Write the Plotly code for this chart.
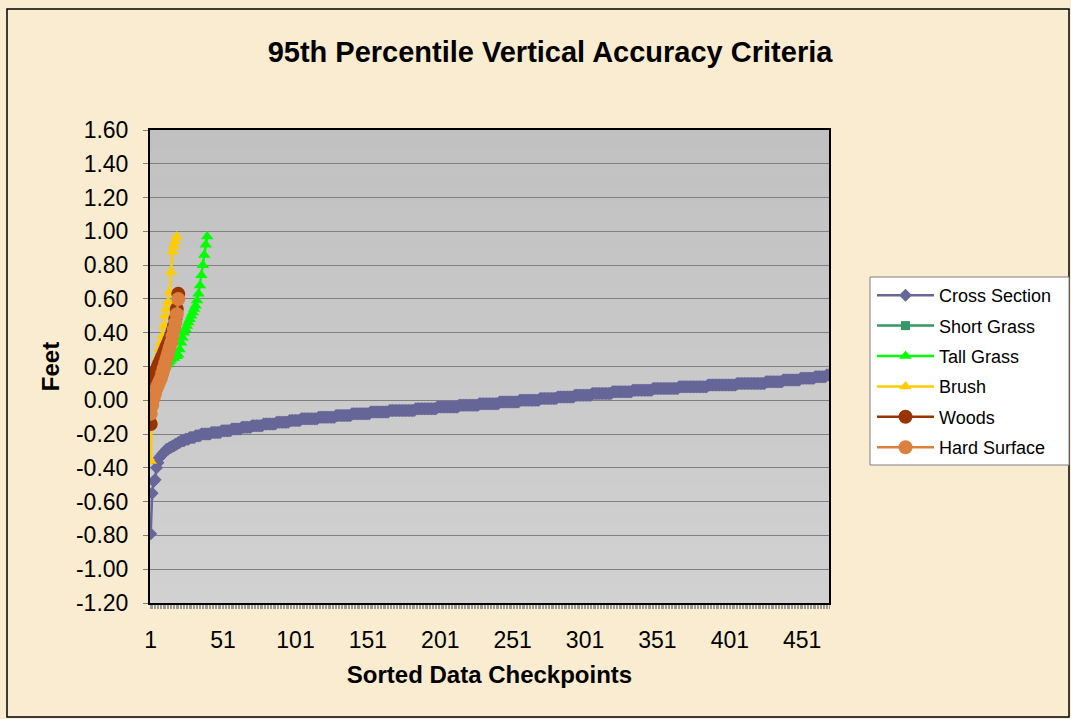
import plotly.graph_objects as go

# ---------------- data ----------------
cross_section = [
    -0.79, -0.55, -0.48, -0.47, -0.40, -0.37, -0.34, -0.33, -0.32, -0.31, -0.30,
    -0.29, -0.29, -0.28, -0.28, -0.27, -0.27, -0.26, -0.26, -0.25, -0.25,
    -0.24, -0.24, -0.24, -0.23, -0.23, -0.23, -0.22, -0.22, -0.22, -0.22, -0.21, -0.21, -0.21, -0.21,
    -0.20, -0.20, -0.20, -0.20, -0.20, -0.20, -0.20,
    -0.19, -0.19, -0.19, -0.19, -0.19, -0.19, -0.19,
    -0.18, -0.18, -0.18, -0.18, -0.18, -0.18, -0.18,
    -0.17, -0.17, -0.17, -0.17, -0.17, -0.17, -0.17,
    -0.16, -0.16, -0.16, -0.16, -0.16, -0.16, -0.16,
    -0.15, -0.15, -0.15, -0.15, -0.15, -0.15, -0.15, -0.15,
    -0.14, -0.14, -0.14, -0.14, -0.14, -0.14, -0.14, -0.14, -0.14,
    -0.13, -0.13, -0.13, -0.13, -0.13, -0.13, -0.13, -0.13, -0.13,
    -0.12, -0.12, -0.12, -0.12, -0.12, -0.12, -0.12, -0.12,
    -0.11, -0.11, -0.11, -0.11, -0.11, -0.11, -0.11, -0.11, -0.11, -0.11, -0.11, -0.11,
    -0.10, -0.10, -0.10, -0.10, -0.10, -0.10, -0.10, -0.10, -0.10, -0.10, -0.10, -0.10,
    -0.09, -0.09, -0.09, -0.09, -0.09, -0.09, -0.09, -0.09, -0.09, -0.09, -0.09,
    -0.08, -0.08, -0.08, -0.08, -0.08, -0.08, -0.08, -0.08, -0.08, -0.08, -0.08, -0.08, -0.08,
    -0.07, -0.07, -0.07, -0.07, -0.07, -0.07, -0.07, -0.07, -0.07, -0.07, -0.07, -0.07, -0.07,
    -0.06, -0.06, -0.06, -0.06, -0.06, -0.06, -0.06, -0.06, -0.06,
    -0.06, -0.06, -0.06, -0.06, -0.06, -0.06, -0.06, -0.06, -0.06,
    -0.05, -0.05, -0.05, -0.05, -0.05, -0.05, -0.05, -0.05, -0.05, -0.05, -0.05, -0.05, -0.05, -0.05, -0.05,
    -0.04, -0.04, -0.04, -0.04, -0.04, -0.04, -0.04, -0.04, -0.04, -0.04, -0.04, -0.04, -0.04, -0.04, -0.04,
    -0.03, -0.03, -0.03, -0.03, -0.03, -0.03, -0.03, -0.03, -0.03, -0.03, -0.03, -0.03, -0.03, -0.03,
    -0.02, -0.02, -0.02, -0.02, -0.02, -0.02, -0.02, -0.02, -0.02, -0.02, -0.02, -0.02, -0.02, -0.02,
    -0.01, -0.01, -0.01, -0.01, -0.01, -0.01, -0.01, -0.01, -0.01, -0.01, -0.01, -0.01, -0.01, -0.01,
    0.00, 0.00, 0.00, 0.00, 0.00, 0.00, 0.00, 0.00, 0.00, 0.00, 0.00, 0.00, 0.00, 0.00,
    0.01, 0.01, 0.01, 0.01, 0.01, 0.01, 0.01, 0.01, 0.01, 0.01, 0.01, 0.01,
    0.02, 0.02, 0.02, 0.02, 0.02, 0.02, 0.02, 0.02, 0.02, 0.02, 0.02, 0.02,
    0.03, 0.03, 0.03, 0.03, 0.03, 0.03, 0.03, 0.03, 0.03, 0.03, 0.03, 0.03,
    0.04, 0.04, 0.04, 0.04, 0.04, 0.04, 0.04, 0.04, 0.04, 0.04, 0.04, 0.04, 0.04, 0.04,
    0.05, 0.05, 0.05, 0.05, 0.05, 0.05, 0.05, 0.05, 0.05, 0.05, 0.05, 0.05, 0.05, 0.05,
    0.06, 0.06, 0.06, 0.06, 0.06, 0.06, 0.06, 0.06, 0.06, 0.06, 0.06, 0.06, 0.06, 0.06,
    0.07, 0.07, 0.07, 0.07, 0.07, 0.07, 0.07, 0.07, 0.07,
    0.07, 0.07, 0.07, 0.07, 0.07, 0.07, 0.07, 0.07, 0.07,
    0.08, 0.08, 0.08, 0.08, 0.08, 0.08, 0.08, 0.08, 0.08, 0.08,
    0.08, 0.08, 0.08, 0.08, 0.08, 0.08, 0.08, 0.08, 0.08, 0.08,
    0.09, 0.09, 0.09, 0.09, 0.09, 0.09, 0.09, 0.09, 0.09, 0.09,
    0.09, 0.09, 0.09, 0.09, 0.09, 0.09, 0.09, 0.09, 0.09, 0.09,
    0.10, 0.10, 0.10, 0.10, 0.10, 0.10, 0.10, 0.10, 0.10, 0.10,
    0.10, 0.10, 0.10, 0.10, 0.10, 0.10, 0.10, 0.10, 0.10, 0.10,
    0.11, 0.11, 0.11, 0.11, 0.11, 0.11, 0.11, 0.11, 0.11, 0.11, 0.11, 0.11,
    0.12, 0.12, 0.12, 0.12, 0.12, 0.12, 0.12, 0.12, 0.12, 0.12, 0.12, 0.12,
    0.13, 0.13, 0.13, 0.13, 0.13, 0.13, 0.13, 0.13, 0.13, 0.13,
    0.14, 0.14, 0.14, 0.14, 0.14, 0.14, 0.14, 0.14,
    0.15, 0.15,
]

short_grass = [-0.06, -0.02, 0.02, 0.05, 0.07, 0.10, 0.12, 0.14, 0.17, 0.20,
               0.23, 0.26, 0.29, 0.32, 0.35, 0.39, 0.43, 0.47]

tall_grass = [-0.06, -0.02, 0.02, 0.05, 0.08, 0.10, 0.12, 0.14, 0.16, 0.18,
              0.20, 0.21, 0.22, 0.23, 0.24, 0.25, 0.25, 0.26, 0.26, 0.27,
              0.30, 0.34, 0.37, 0.40, 0.42, 0.44, 0.46, 0.48, 0.50, 0.52,
              0.54, 0.56, 0.59, 0.63, 0.68, 0.74, 0.80, 0.86, 0.92, 0.97]

brush = [-0.36, 0.00, 0.08, 0.14, 0.20, 0.26, 0.30, 0.34, 0.38, 0.44,
         0.50, 0.54, 0.58, 0.64, 0.76, 0.88, 0.91, 0.94, 0.97]

woods = [-0.14, 0.02, 0.10, 0.15, 0.18, 0.20, 0.22, 0.24, 0.26, 0.28,
         0.30, 0.32, 0.34, 0.36, 0.38, 0.41, 0.44, 0.48, 0.54, 0.63]

hard_surface = [-0.08, -0.03, 0.01, 0.04, 0.07, 0.09, 0.11, 0.13, 0.16, 0.19,
                0.22, 0.25, 0.28, 0.31, 0.34, 0.38, 0.42, 0.46, 0.51, 0.60]

x_tick_labels = ["1", "51", "101", "151", "201", "251", "301", "351", "401", "451"]
y_tick_values = [-1.20, -1.00, -0.80, -0.60, -0.40, -0.20, 0.00, 0.20, 0.40,
                 0.60, 0.80, 1.00, 1.20, 1.40, 1.60]

series_names = ["Cross Section", "Short Grass", "Tall Grass", "Brush", "Woods", "Hard Surface"]
series_values = [cross_section, short_grass, tall_grass, brush, woods, hard_surface]

# ---------------- styles ----------------
colors = ["#666699", "#339966", "#00FF00", "#FFCC00", "#993300", "#DB803E"]
symbols = ["diamond", "square", "triangle-up", "triangle-up", "circle", "circle"]
sizes = [10, 9, 11, 11, 14, 14]

FONT = "Liberation Sans, Arial, sans-serif"
W, H = 1071, 719
L, R, T, B = 150, 829, 130, 603   # plot area in pixels
pw, ph = R - L, B - T

n_cat = len(cross_section)

fig = go.Figure()
for name, vals, col, sym, sz in zip(series_names, series_values, colors, symbols, sizes):
    fig.add_trace(go.Scatter(
        x=list(range(1, len(vals) + 1)), y=vals, name=name,
        mode="lines+markers", legendgroup=name,
        line=dict(color=col, width=2.5),
        marker=dict(symbol=sym, size=sz, color=col, line=dict(width=0)),
    ))

def px_x(x):
    return (x - L) / pw

def px_y(y):
    return (B - y) / ph

shapes = []
# plot-area gradient (light grey, lighter towards bottom)
nb = 24
for k in range(nb):
    g = int(round(0xC1 + (0xD1 - 0xC1) * k / (nb - 1)))
    shapes.append(dict(type="rect", xref="paper", yref="paper",
                       x0=0, x1=1, y0=1 - (k + 1) / nb, y1=1 - k / nb,
                       fillcolor=f"rgb({g},{g},{g})", line=dict(width=0), layer="below"))
# outer chart border
shapes.append(dict(type="rect", xref="paper", yref="paper",
                   x0=px_x(7), x1=px_x(1069), y0=px_y(717), y1=px_y(9),
                   line=dict(color="black", width=1.5), fillcolor="rgba(0,0,0,0)", layer="above"))
# legend box
shapes.append(dict(type="rect", xref="paper", yref="paper",
                   x0=px_x(870), x1=px_x(1069), y0=px_y(465), y1=px_y(277),
                   line=dict(color="#808080", width=1), fillcolor="white", layer="above"))

fig.update_layout(
    width=W, height=H,
    margin=dict(l=L, r=W - R, t=T, b=H - B, pad=0),
    paper_bgcolor="#F9ECD0",
    plot_bgcolor="#C8C8C8",
    font=dict(family=FONT, color="black", size=23),
    title=dict(text="95th Percentile Vertical Accuracy Criteria",
               x=550 / W, xanchor="center", xref="container",
               y=1 - 52 / H, yanchor="middle", yref="container",
               font=dict(size=29, weight=700, family=FONT)),
    shapes=shapes,
    showlegend=True,
    legend=dict(x=px_x(872), xanchor="left", y=px_y(277), yanchor="top",
                bgcolor="rgba(0,0,0,0)", borderwidth=0,
                font=dict(size=18, family=FONT), tracegroupgap=4,
                itemwidth=57),
)

fig.update_xaxes(
    range=[0.5, n_cat + 0.5],
    tickmode="array", tickvals=[int(t) for t in x_tick_labels], ticktext=x_tick_labels,
    showgrid=False, zeroline=False,
    showline=True, linecolor="black", linewidth=2, mirror=True,
    ticks="", ticklabelstandoff=15,
    tickfont=dict(size=23),
    minor=dict(ticks="outside", tick0=0.5, dtick=1, ticklen=4, tickcolor="#9A9A9A", tickwidth=1),
    title=dict(text="Sorted Data Checkpoints", font=dict(size=24, weight=700), standoff=15),
)

fig.update_yaxes(
    range=[-1.2, 1.6],
    tickmode="array", tickvals=y_tick_values, ticktext=[f"{v:.2f}" for v in y_tick_values],
    showgrid=True, gridcolor="#808080", gridwidth=1, zeroline=False,
    showline=True, linecolor="black", linewidth=2, mirror=True,
    ticks="outside", ticklen=5, tickcolor="#808080", ticklabelstandoff=10,
    tickfont=dict(size=23),
    title=dict(text="Feet", font=dict(size=24, weight=700), standoff=10),
)

fig.write_html("out.html",
               config={"displayModeBar": False},
               post_script="document.body.style.margin='0';document.body.style.overflow='hidden';")
